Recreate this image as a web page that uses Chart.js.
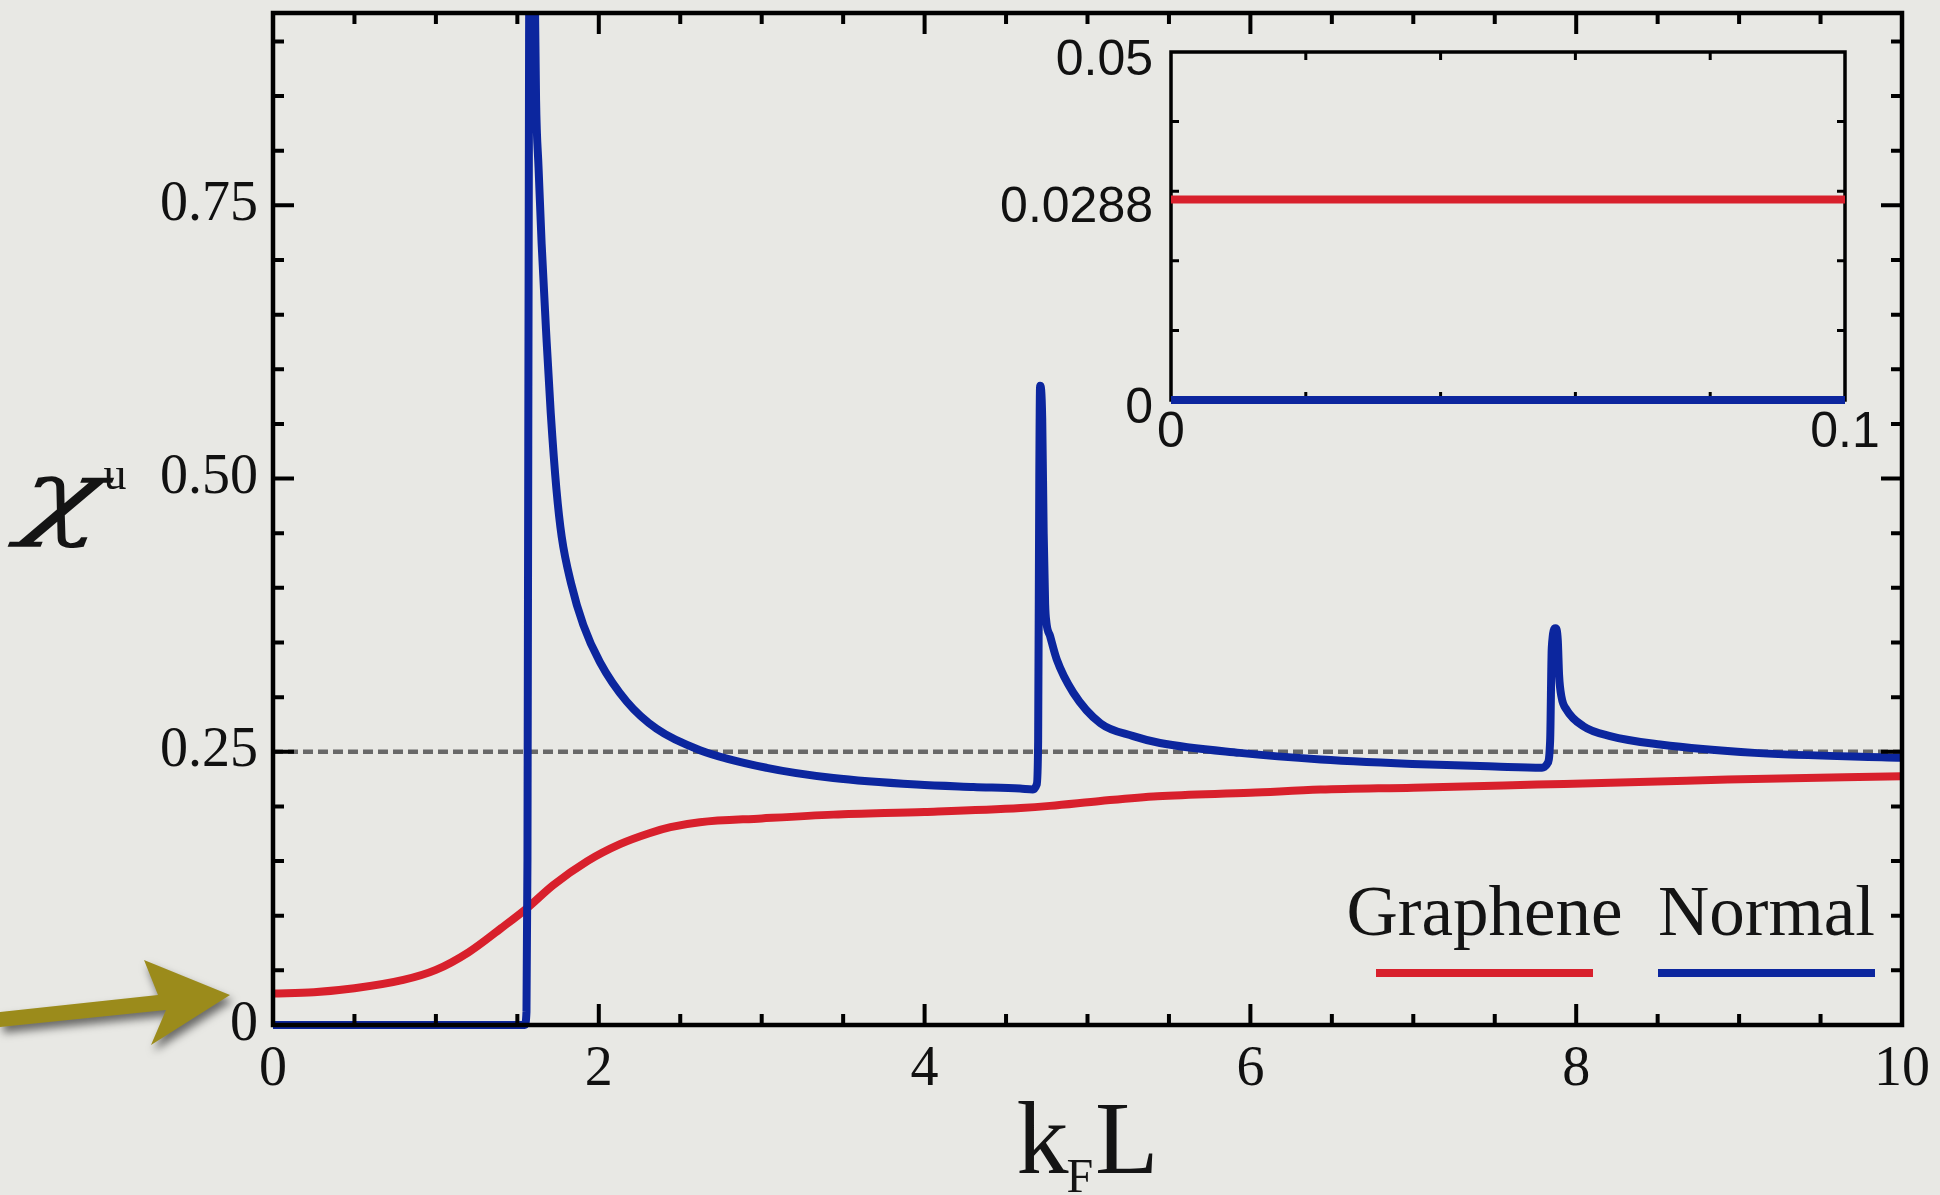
<!DOCTYPE html>
<html>
<head>
<meta charset="utf-8">
<script src="https://cdn.jsdelivr.net/npm/chart.js@4.4.0/dist/chart.umd.min.js"></script>
<style>
  html, body { margin: 0; padding: 0; background: #e8e8e4; overflow: hidden; }
  #wrap { position: relative; width: 1940px; height: 1195px; }
  #main { position: absolute; left: 0; top: 0; }
  #inset { position: absolute; left: 960px; top: 0; }
</style>
</head>
<body>
<div id="wrap">
  <canvas id="main" width="1940" height="1195"></canvas>
  <canvas id="inset" width="940" height="480"></canvas>
</div>
<script>
// ================== DATA ==================
const seriesNames = ["Graphene", "Normal"];

const grapheneX = [0, 0.25, 0.5, 0.8, 1.0, 1.2, 1.4, 1.56, 1.72, 1.93, 2.13, 2.31, 2.44, 2.62, 3.0, 3.44,
                   4.0, 4.59, 4.77, 5.08, 5.43, 6.0, 6.43, 7.0, 7.76, 8.5, 8.93, 10];
const grapheneY = [0.0288, 0.0300, 0.0336, 0.0412, 0.0504, 0.0665, 0.0885, 0.107, 0.128, 0.150, 0.1655, 0.1755,
                   0.181, 0.1855, 0.189, 0.1925, 0.195, 0.1986, 0.2005, 0.205, 0.2093, 0.2125, 0.2154, 0.2172,
                   0.220, 0.2228, 0.2246, 0.2276];

const normalX = [0, 1.545, 1.556, 1.562, 1.572, 1.586, 1.606, 1.615, 1.630, 1.649, 1.680, 1.705, 1.740, 1.772,
                 1.830, 1.905, 2.007, 2.171, 2.355, 2.621, 3.031, 3.440, 3.950, 4.300, 4.586, 4.665,
                 4.688, 4.697, 4.704, 4.709, 4.722, 4.731, 4.740, 4.748, 4.770, 4.811, 4.913, 5.080, 5.281,
                 5.445, 5.934, 6.433, 7.100, 7.500, 7.790, 7.822, 7.840, 7.850, 7.873, 7.887, 7.895, 7.910,
                 7.940, 8.044, 8.208, 8.515, 9.095, 10];
const normalY = [0, 0, 0.012, 0.15, 0.9, 1.3, 0.96, 0.846, 0.785, 0.715, 0.625, 0.56, 0.49, 0.447,
                 0.404, 0.366, 0.332, 0.296, 0.271, 0.2515, 0.2353, 0.226, 0.220, 0.2178, 0.2163, 0.2155,
                 0.220, 0.26, 0.50, 0.585, 0.555, 0.45, 0.385, 0.368, 0.356, 0.3345, 0.304, 0.276, 0.2643,
                 0.258, 0.249, 0.243, 0.2383, 0.2365, 0.2355, 0.239, 0.26, 0.345, 0.363, 0.352, 0.32, 0.30,
                 0.2887, 0.2734, 0.2643, 0.2566, 0.249, 0.2445];

const refX = [0, 10];
const refY = [0.25, 0.25];

const xTicks = [0, 2, 4, 6, 8, 10];
const yTicks = [0, 0.25, 0.5, 0.75];
const yTickLabels = ["0", "0.25", "0.50", "0.75"];

// inset
const insetX = [0, 0.1];
const insetGrapheneY = [0.0288, 0.0288];
const insetNormalY = [0, 0];
const insetXTicks = [0, 0.1];
const insetXTickLabels = ["0", "0.1"];
const insetYTicks = [0, 0.0288, 0.05];
const insetYTickLabels = ["0", "0.0288", "0.05"];

// ================== STYLE ==================
const BLUE = "#0c269e";
const RED = "#d8202c";
const SERIF = "'Liberation Serif', 'Times New Roman', serif";
const SANS = "'Liberation Sans', Arial, sans-serif";

const pts = (xs, ys) => xs.map((x, i) => ({ x, y: ys[i] }));

// ================== PLUGINS ==================
// frame box + inward ticks on all four sides
const frameTicks = {
  id: "frameTicks",
  _draw(chart, o) {
    const { ctx, chartArea: a, scales: { x, y } } = chart;
    const isMajor = (v, arr) => arr.some(m => Math.abs(m - v) < 1e-9);
    ctx.save();
    ctx.strokeStyle = "#000";
    ctx.lineWidth = o.tickWidth;
    ctx.beginPath();
    const nx = Math.round((x.max - x.min) / o.xStep);
    for (let i = 1; i < nx; i++) {
      const v = x.min + i * o.xStep;
      const px = x.getPixelForValue(v);
      const len = isMajor(v, o.xMajor) ? o.major : o.minor;
      ctx.moveTo(px, a.bottom); ctx.lineTo(px, a.bottom - len);
      ctx.moveTo(px, a.top); ctx.lineTo(px, a.top + len);
    }
    const ny = Math.round((y.max - y.min) / o.yStep);
    for (let i = 1; i <= ny; i++) {
      const v = y.min + i * o.yStep;
      if (v >= y.max - 1e-9) continue;
      const py = y.getPixelForValue(v);
      const len = isMajor(v, o.yMajor) ? o.major : o.minor;
      ctx.moveTo(a.left, py); ctx.lineTo(a.left + len, py);
      ctx.moveTo(a.right, py); ctx.lineTo(a.right - len, py);
    }
    ctx.stroke();
    ctx.lineWidth = o.frameWidth;
    ctx.strokeRect(a.left, a.top, a.right - a.left, a.bottom - a.top);
    ctx.restore();
  },
  beforeDatasetsDraw(chart, args, o) { if (o.layer === "before") this._draw(chart, o); },
  afterDatasetsDraw(chart, args, o) { if (o.layer !== "before") this._draw(chart, o); }
};

// axis titles, legend and the arrow
const annotate = {
  id: "annotate",
  afterDraw(chart) {
    const { ctx, chartArea: a, scales: { y } } = chart;
    const y0 = y.getPixelForValue(0);
    const cx = (a.left + a.right) / 2;
    ctx.save();
    ctx.fillStyle = "#141414";
    ctx.textBaseline = "alphabetic";

    // x title: k_F L
    ctx.font = `104px ${SERIF}`;
    const wk = ctx.measureText("k").width;
    const wL = ctx.measureText("L").width;
    ctx.font = `48px ${SERIF}`;
    const wF = ctx.measureText("F").width;
    let tx = cx - (wk + wF + wL) / 2;
    const tb = a.bottom + 148;
    ctx.font = `104px ${SERIF}`;
    ctx.fillText("k", tx, tb);
    ctx.font = `48px ${SERIF}`;
    ctx.fillText("F", tx + wk - 2, tb + 19);
    ctx.font = `104px ${SERIF}`;
    ctx.fillText("L", tx + wk + wF, tb);

    // y title: chi^u (chi stretched a bit to look like the calligraphic one)
    const ym = y.getPixelForValue(0.5);
    const sx = 1.45;
    ctx.font = `italic 95px 'DejaVu Serif', serif`;
    const wc = ctx.measureText("\u03C7").width * sx;
    ctx.save();
    ctx.translate(18, ym + 48);
    ctx.transform(sx, 0, -0.12, 1, 0, 0);
    ctx.fillText("\u03C7", 0, 0);
    ctx.restore();
    ctx.font = `46px ${SERIF}`;
    ctx.fillText("u", 18 + wc + 2, ym + 10);

    // legend: names above short lines
    const entries = chart.data.datasets.filter(d => d.inLegend);
    const lineLen = 217, gap = 65;
    let right = a.right - 27;
    const lineY = y0 - 52;
    ctx.font = `71px ${SERIF}`;
    ctx.textAlign = "center";
    for (let i = entries.length - 1; i >= 0; i--) {
      const d = entries[i];
      const lx = right - lineLen;
      ctx.strokeStyle = d.borderColor;
      ctx.lineWidth = 8;
      ctx.beginPath();
      ctx.moveTo(lx, lineY); ctx.lineTo(right, lineY);
      ctx.stroke();
      ctx.fillText(d.label, lx + lineLen / 2, y0 - 90);
      right = lx - gap;
    }

    // arrow pointing at the zero label
    const tipX = a.left - 43, tipY = y0 - 30;
    ctx.shadowColor = "rgba(0,0,0,0.55)";
    ctx.shadowBlur = 9;
    ctx.shadowOffsetX = 3;
    ctx.shadowOffsetY = 6;
    ctx.fillStyle = "#9b8b1b";
    ctx.beginPath();
    ctx.moveTo(0, tipY + 17);
    ctx.lineTo(tipX - 72, tipY + 0);
    ctx.lineTo(tipX - 86, tipY - 35);
    ctx.lineTo(tipX, tipY);
    ctx.lineTo(tipX - 79, tipY + 50);
    ctx.lineTo(tipX - 64, tipY + 15);
    ctx.lineTo(0, tipY + 32);
    ctx.closePath();
    ctx.fill();
    ctx.restore();
  }
};

// ================== MAIN CHART ==================
new Chart(document.getElementById("main"), {
  type: "line",
  data: {
    datasets: [
      { label: seriesNames[0], data: pts(grapheneX, grapheneY), borderColor: RED, borderWidth: 8, order: 2,
        inLegend: true, clip: { left: 6, top: 0, right: 6, bottom: 6 } },
      { label: seriesNames[1], data: pts(normalX, normalY), borderColor: BLUE, borderWidth: 8, order: 1,
        inLegend: true, clip: { left: 6, top: 0, right: 6, bottom: 6 } },
      { label: "ref", data: pts(refX, refY), borderColor: "#686868", borderWidth: 4.5, borderDash: [10, 5],
        order: 3, cubicInterpolationMode: "default", tension: 0 }
    ]
  },
  options: {
    responsive: false,
    animation: false,
    layout: { padding: { top: 13, right: 38, bottom: 0, left: 0 } },
    elements: {
      point: { radius: 0 },
      line: { cubicInterpolationMode: "monotone", borderJoinStyle: "round", fill: false }
    },
    plugins: {
      legend: { display: false },
      tooltip: { enabled: false },
      frameTicks: { layer: "after", xStep: 0.5, yStep: 0.05, xMajor: xTicks, yMajor: yTicks,
                    major: 21, minor: 11, tickWidth: 4, frameWidth: 4.5 }
    },
    scales: {
      x: {
        type: "linear", min: 0, max: 10,
        grid: { display: false, drawTicks: false }, border: { display: false },
        afterBuildTicks: s => { s.ticks = xTicks.map(v => ({ value: v })); },
        afterFit: s => { s.height = 170; s.paddingLeft = 0; s.paddingRight = 0; },
        ticks: { autoSkip: false, maxRotation: 0, padding: 12, color: "#111",
                 font: { family: SERIF, size: 56 }, callback: v => String(v) }
      },
      y: {
        type: "linear", min: 0, max: 0.926,
        grid: { display: false, drawTicks: false }, border: { display: false },
        afterBuildTicks: s => { s.ticks = yTicks.map(v => ({ value: v })); },
        afterFit: s => { s.width = 273; s.paddingTop = 0; s.paddingBottom = 0; },
        ticks: { autoSkip: false, padding: 15, color: "#111",
                 font: { family: SERIF, size: 56 }, callback: (v, i) => yTickLabels[i] }
      }
    }
  },
  plugins: [frameTicks, annotate]
});

// ================== INSET ==================
new Chart(document.getElementById("inset"), {
  type: "line",
  data: {
    datasets: [
      { label: seriesNames[0], data: pts(insetX, insetGrapheneY), borderColor: RED, borderWidth: 8, clip: 5 },
      { label: seriesNames[1], data: pts(insetX, insetNormalY), borderColor: BLUE, borderWidth: 8, clip: 5 }
    ]
  },
  options: {
    responsive: false,
    animation: false,
    layout: { padding: { top: 52, right: 55, bottom: 0, left: 0 } },
    elements: { point: { radius: 0 }, line: { tension: 0 } },
    plugins: {
      legend: { display: false },
      tooltip: { enabled: false },
      frameTicks: { layer: "before", xStep: 0.02, yStep: 0.01, xMajor: [], yMajor: [],
                    major: 8, minor: 8, tickWidth: 3, frameWidth: 3.5 }
    },
    scales: {
      x: {
        type: "linear", min: 0, max: 0.1,
        grid: { display: false, drawTicks: false }, border: { display: false },
        afterBuildTicks: s => { s.ticks = insetXTicks.map(v => ({ value: v })); },
        afterFit: s => { s.height = 80; },
        ticks: { autoSkip: false, maxRotation: 0, padding: 3, color: "#111",
                 font: { family: SANS, size: 50 }, callback: (v, i) => insetXTickLabels[i] }
      },
      y: {
        type: "linear", min: 0, max: 0.05,
        grid: { display: false, drawTicks: false }, border: { display: false },
        afterBuildTicks: s => { s.ticks = insetYTicks.map(v => ({ value: v })); },
        afterFit: s => { s.width = 211; },
        ticks: { autoSkip: false, padding: 18, labelOffset: 9, color: "#111",
                 font: { family: SANS, size: 50 }, callback: (v, i) => insetYTickLabels[i] }
      }
    }
  },
  plugins: [frameTicks]
});
</script>
</body>
</html>
